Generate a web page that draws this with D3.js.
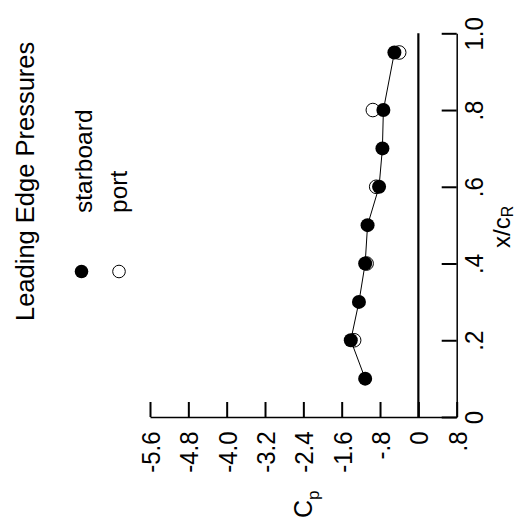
<!DOCTYPE html>
<html><head><meta charset="utf-8">
<script src="https://cdn.jsdelivr.net/npm/d3@7"></script>
<style>
html,body{margin:0;padding:0;background:#fff;}
svg text{font-family:"Liberation Sans",Arial,Helvetica,sans-serif;fill:#000;}
</style></head>
<body><svg id="c" width="530" height="529"></svg>
<script>
// Data
const xcStarboard = [0.1, 0.2, 0.3, 0.4, 0.5, 0.6, 0.7, 0.8, 0.95];
const cpStarboard = [-1.11, -1.41, -1.24, -1.11, -1.06, -0.82, -0.75, -0.73, -0.50];
const xcPort = [0.2, 0.4, 0.6, 0.8, 0.95];
const cpPort = [-1.34, -1.08, -0.88, -0.95, -0.40];
const cpTicks = [-5.6, -4.8, -4.0, -3.2, -2.4, -1.6, -0.8, 0, 0.8];
const cpTickLabels = ["-5.6", "-4.8", "-4.0", "-3.2", "-2.4", "-1.6", "-.8", "0", ".8"];
const xcTicks = [0, 0.2, 0.4, 0.6, 0.8, 1.0];
const xcTickLabels = ["0", ".2", ".4", ".6", ".8", "1.0"];
const legendLabels = ["starboard", "port"];

const svg = d3.select("#c");
const cp = d3.scaleLinear().domain([-5.6, 0.8]).range([150, 456.7]);
const xc = d3.scaleLinear().domain([0, 1]).range([417, 33.3]);

// Cp axis (bottom)
const gx = svg.append("g").attr("transform", "translate(0," + xc(0) + ")")
  .call(d3.axisBottom(cp).tickValues(cpTicks).tickSizeInner(-15).tickSizeOuter(0)
    .tickFormat((d, i) => cpTickLabels[i]));
gx.select(".domain").attr("stroke", "#000").attr("stroke-width", 1.5);
gx.selectAll(".tick line").attr("stroke", "#000").attr("stroke-width", 2);
gx.selectAll(".tick text")
  .attr("transform", "translate(9.5,14.5) rotate(-90) scale(1,1.06)")
  .attr("x", 0).attr("y", 0).attr("dy", 0)
  .attr("text-anchor", "end")
  .attr("font-size", 24).attr("font-family", null);

// x/cR axis (right)
const gy = svg.append("g").attr("transform", "translate(" + cp(0.8) + ",0)")
  .call(d3.axisRight(xc).tickValues(xcTicks).tickSizeInner(-15).tickSizeOuter(0)
    .tickFormat((d, i) => xcTickLabels[i]));
gy.select(".domain").attr("stroke", "#000").attr("stroke-width", 1.5);
gy.selectAll(".tick line").attr("stroke", "#000").attr("stroke-width", 2);
gy.selectAll(".tick text")
  .attr("transform", "translate(26,0) rotate(-90) scale(1,1.06)")
  .attr("x", 0).attr("y", 0).attr("dy", 0)
  .attr("text-anchor", "middle")
  .attr("font-size", 24).attr("font-family", null);

// zero line
svg.append("line")
  .attr("x1", cp(0)).attr("x2", cp(0))
  .attr("y1", xc(0)).attr("y2", xc(1))
  .attr("stroke", "#000").attr("stroke-width", 2.2);

// Axis titles
const cpT = svg.append("text").attr("transform", "translate(312,518) rotate(-90)")
  .attr("font-size", 25);
cpT.append("tspan").text("C");
cpT.append("tspan").attr("font-size", 17).attr("dy", 7).text("p");

const xT = svg.append("text").attr("transform", "translate(510,248) rotate(-90)")
  .attr("font-size", 24);
xT.append("tspan").text("x/c");
xT.append("tspan").attr("font-size", 16).attr("dy", 3).text("R");

// Port (open)
svg.append("g").selectAll("circle").data(xcPort).join("circle")
  .attr("cx", (d, i) => cp(cpPort[i])).attr("cy", d => xc(d))
  .attr("r", 6.8).attr("fill", "none").attr("stroke", "#000").attr("stroke-width", 1);

// Starboard line
const line = d3.line().x((d, i) => cp(cpStarboard[i])).y(d => xc(d));
svg.append("path").datum(xcStarboard).attr("d", line)
  .attr("fill", "none").attr("stroke", "#000").attr("stroke-width", 1);

svg.append("g").selectAll("circle").data(xcStarboard).join("circle")
  .attr("cx", (d, i) => cp(cpStarboard[i])).attr("cy", d => xc(d))
  .attr("r", 7).attr("fill", "#000");

// Legend
svg.append("text").attr("transform", "translate(34,321) rotate(-90)")
  .attr("font-size", 25.5).text("Leading Edge Pressures");
svg.append("text").attr("transform", "translate(92,213) rotate(-90)")
  .attr("font-size", 24.5).text(legendLabels[0]);
svg.append("text").attr("transform", "translate(127,213) rotate(-90)")
  .attr("font-size", 24.5).text(legendLabels[1]);
svg.append("circle").attr("cx", 81.5).attr("cy", 271.5).attr("r", 6.8).attr("fill", "#000");
svg.append("circle").attr("cx", 119).attr("cy", 271.5).attr("r", 6.3)
  .attr("fill", "none").attr("stroke", "#000").attr("stroke-width", 1);
</script></body></html>
